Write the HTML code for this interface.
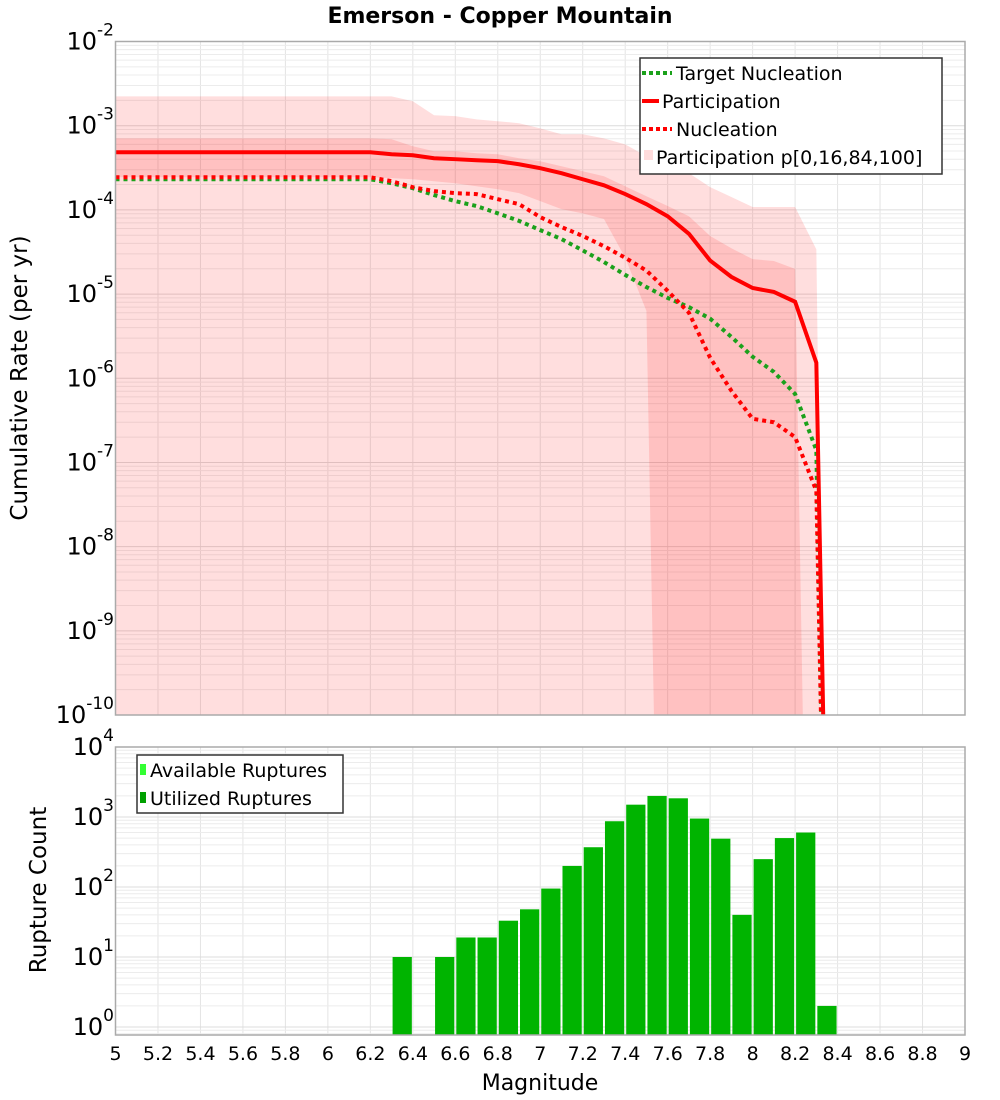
<!DOCTYPE html>
<html><head><meta charset="utf-8"><style>
body{margin:0;background:#fff;}
svg{display:block;font-family:"DejaVu Sans","Liberation Sans",sans-serif;}
</style></head><body>
<svg id="chart" width="1000" height="1100" viewBox="0 0 1000 1100">
<text x="500" y="23" text-anchor="middle" font-size="22" font-weight="bold">Emerson - Copper Mountain</text>
<g id="topg"></g>
<g id="botg"></g>
<text transform="translate(27,378) rotate(-90)" text-anchor="middle" font-size="23">Cumulative Rate (per yr)</text>
<text transform="translate(46,890) rotate(-90)" text-anchor="middle" font-size="23">Rupture Count</text>
<text x="540" y="1090" text-anchor="middle" font-size="22">Magnitude</text>
</svg>
<script>
const partMags=[5.0,6.2,6.3,6.4,6.5,6.6,6.7,6.8,6.9,7.0,7.1,7.2,7.3,7.4,7.5,7.6,7.7,7.8,7.9,8.0,8.1,8.2,8.3,8.34];
const partVals=[4.83e-4,4.83e-4,4.58e-4,4.46e-4,4.1e-4,4.0e-4,3.89e-4,3.79e-4,3.48e-4,3.13e-4,2.73e-4,2.31e-4,1.96e-4,1.54e-4,1.17e-4,8.4e-5,5.2e-5,2.5e-5,1.6e-5,1.18e-5,1.06e-5,8.1e-6,1.53e-6,1e-11];
const nuclMags=[5.0,6.2,6.3,6.4,6.5,6.6,6.7,6.8,6.9,7.0,7.1,7.2,7.3,7.4,7.5,7.6,7.7,7.8,7.9,8.0,8.1,8.2,8.3,8.33];
const nuclVals=[2.44e-4,2.44e-4,2.19e-4,1.86e-4,1.67e-4,1.58e-4,1.54e-4,1.34e-4,1.17e-4,8.2e-5,6.25e-5,4.9e-5,3.7e-5,2.7e-5,1.9e-5,1.09e-5,6.0e-6,1.75e-6,7.1e-7,3.3e-7,3.0e-7,2.0e-7,4.6e-8,1e-11];
const targMags=[5.0,6.2,6.3,6.4,6.5,6.6,6.7,6.8,6.9,7.0,7.1,7.2,7.3,7.4,7.5,7.6,7.7,7.8,7.9,8.0,8.1,8.2,8.3,8.33];
const targVals=[2.31e-4,2.31e-4,2.07e-4,1.81e-4,1.5e-4,1.27e-4,1.11e-4,9.1e-5,7.4e-5,5.75e-5,4.5e-5,3.3e-5,2.4e-5,1.69e-5,1.21e-5,9.0e-6,7.0e-6,5.1e-6,3.1e-6,1.8e-6,1.19e-6,6.5e-7,1.4e-7,1e-11];
const outerUpMags=[5.0,6.3,6.4,6.5,6.6,6.7,6.8,6.9,7.0,7.1,7.2,7.3,7.4,7.5,7.6,7.7,7.8,7.9,8.0,8.1,8.2,8.3,8.34];
const outerUpVals=[2.23e-3,2.23e-3,1.95e-3,1.33e-3,1.3e-3,1.19e-3,1.13e-3,1.07e-3,9.3e-4,7.9e-4,7.9e-4,7.08e-4,6.0e-4,4.33e-4,3.78e-4,2.73e-4,1.86e-4,1.42e-4,1.08e-4,1.08e-4,1.08e-4,3.4e-5,1e-12];
const outerLoMags=[5.0,8.34];
const outerLoVals=[1e-12,1e-12];
const innerUpMags=[5.0,6.2,6.3,6.4,6.5,6.6,6.7,6.8,6.9,7.0,7.1,7.2,7.3,7.4,7.5,7.6,7.7,7.8,7.9,8.0,8.1,8.2,8.25];
const innerUpVals=[7.08e-4,7.08e-4,6.9e-4,5.7e-4,4.97e-4,4.97e-4,4.7e-4,4.58e-4,4.1e-4,3.78e-4,3.3e-4,2.88e-4,2.51e-4,1.91e-4,1.45e-4,1.11e-4,8.4e-5,4.9e-5,3.5e-5,2.6e-5,2.47e-5,1.99e-5,1e-12];
const innerLoMags=[5.0,6.2,6.3,6.4,6.5,6.6,6.7,6.8,6.9,7.0,7.1,7.2,7.3,7.4,7.5,7.55,8.25];
const innerLoVals=[2.44e-4,2.44e-4,2.38e-4,2.31e-4,2.19e-4,2.07e-4,1.91e-4,1.76e-4,1.58e-4,1.27e-4,1.02e-4,9.1e-5,7.8e-5,2.7e-5,6.3e-6,1e-12,1e-12];
const barMags=[6.35,6.55,6.65,6.75,6.85,6.95,7.05,7.15,7.25,7.35,7.45,7.55,7.65,7.75,7.85,7.95,8.05,8.15,8.25,8.35];
const barCounts=[10,10,19,19,33,48,95,200,370,870,1500,2000,1850,950,490,40,250,500,600,2];
const xTicks=["5","5.2","5.4","5.6","5.8","6","6.2","6.4","6.6","6.8","7","7.2","7.4","7.6","7.8","8","8.2","8.4","8.6","8.8","9"];
const topExps=[-2,-3,-4,-5,-6,-7,-8,-9,-10];
const botExps=[0,1,2,3,4];

const NS="http://www.w3.org/2000/svg";
const L=115.5,R=965,T1=41.5,B1=715,T2=747,B2=1035;
const X=m=>L+(m-5)*(R-L)/4;
const YT=v=>T1+(-2-Math.log10(v))*(B1-T1)/8;
const YB=v=>T2+(4-Math.log10(v))*70;
function el(tag,attrs,parent){const e=document.createElementNS(NS,tag);for(const k in attrs)e.setAttribute(k,attrs[k]);parent.appendChild(e);return e;}
const svgEl=document.getElementById('chart');
const defs=el('defs',{},svgEl);
const c1=el('clipPath',{id:'c1'},defs);el('rect',{x:L,y:T1,width:R-L,height:B1-T1},c1);
const c2=el('clipPath',{id:'c2'},defs);el('rect',{x:L,y:T2,width:R-L,height:B2-T2},c2);
const gTop=document.getElementById('topg'),gBot=document.getElementById('botg');

function grid(g,yf,expLo,expHi,yT,yB){
  for(let m=5.2;m<8.99;m+=0.2){const l=el('line',{x1:X(m),x2:X(m),y1:yT,y2:yB,stroke:'#e4e4e4','stroke-width':1},g);
    
    }
  for(let e=expLo;e<=expHi;e++)for(let k=1;k<10;k++){const y=yf(k*Math.pow(10,e));if(y<yT||y>yB)continue;
    const l=el('line',{x1:L,x2:R,y1:y,y2:y,stroke:k==1?'#dcdcdc':'#ececec','stroke-width':1},g);
    
    }
}
grid(gTop,YT,-10,-3,T1,B1);
grid(gBot,YB,-1,3,T2,B2);

function band(g,um,uv,lm,lv,name){
  let pts=um.map((m,i)=>X(m)+','+YT(uv[i]));
  for(let i=lm.length-1;i>=0;i--)pts.push(X(lm[i])+','+YT(lv[i]));
  const p=el('polygon',{points:pts.join(' '),fill:'#ff0000','fill-opacity':0.13,'clip-path':'url(#c1)'},g);
  
  
}
band(gTop,outerUpMags,outerUpVals,outerLoMags,outerLoVals,'participation-band-p0-p100');
band(gTop,innerUpMags,innerUpVals,innerLoMags,innerLoVals,'participation-band-p16-p84');

function line(g,ms,vs,color,dash,name){
  const p=el('polyline',{points:ms.map((m,i)=>X(m)+','+YT(vs[i])).join(' '),fill:'none',stroke:color,'stroke-width':4,'clip-path':'url(#c1)'},g);
  if(dash)p.setAttribute('stroke-dasharray',dash);
  
  
}
line(gTop,targMags,targVals,'#1ba11b','4,4','target-nucleation-line');
line(gTop,nuclMags,nuclVals,'#ff0000','4,4','nucleation-line');
line(gTop,partMags,partVals,'#ff0000',null,'participation-line');

barMags.forEach((m,i)=>{const y=YB(barCounts[i]);
  const r=el('rect',{x:X(m-0.05)+1,y:y,width:X(m+0.05)-X(m-0.05)-2,height:B2-y,fill:'#00b400','clip-path':'url(#c2)'},gBot);
  
  });

[[T1,B1],[T2,B2]].forEach(([a,b],j)=>{const r=el('rect',{x:L,y:a,width:R-L,height:b-a,fill:'none',stroke:'#aaaaaa','stroke-width':1.5},svgEl);
  
  });

function ylab(y,e,name){
  const t=el('text',{x:114,y:y+8,'text-anchor':'end','font-size':24},svgEl);
  
  
  const a=el('tspan',{},t);a.textContent='10';
  const b=el('tspan',{dy:-14,'font-size':17},t);b.textContent=String(e);
}
topExps.forEach(e=>ylab(YT(Math.pow(10,e)),e,'rate-y-tick-label'));
botExps.forEach(e=>ylab(YB(Math.pow(10,e)),e,'count-y-tick-label'));
xTicks.forEach(s=>{const t=el('text',{x:X(parseFloat(s)),y:1060,'text-anchor':'middle','font-size':19},svgEl);
  t.textContent=s;
  
  });

const lg=el('g',{},svgEl);


el('rect',{x:640,y:58,width:302,height:116,fill:'#fff',stroke:'#333','stroke-width':1.5},lg);
el('line',{x1:642,x2:672,y1:73,y2:73,stroke:'#1ba11b','stroke-width':4,'stroke-dasharray':'4,3'},lg);
el('line',{x1:642,x2:659,y1:101,y2:101,stroke:'#ff0000','stroke-width':4},lg);
el('line',{x1:642,x2:672,y1:129,y2:129,stroke:'#ff0000','stroke-width':4,'stroke-dasharray':'4,3'},lg);
el('rect',{x:644,y:150,width:9,height:10,fill:'#ffdcdc'},lg);
[['Target Nucleation',676,80],['Participation',662,108],['Nucleation',676,136],['Participation p[0,16,84,100]',656,164]].forEach(([s,x,y])=>{
  const t=el('text',{x:x,y:y,'font-size':19},lg);t.textContent=s;
  
  });
const lg2=el('g',{},svgEl);


el('rect',{x:137,y:755,width:206,height:58,fill:'#fff',stroke:'#333','stroke-width':1.5},lg2);
el('rect',{x:140,y:764,width:6,height:11,fill:'#33ff33'},lg2);
el('rect',{x:140,y:792,width:6,height:11,fill:'#00a000'},lg2);
[['Available Ruptures',150,777],['Utilized Ruptures',150,805]].forEach(([s,x,y])=>{
  const t=el('text',{x:x,y:y,'font-size':19},lg2);t.textContent=s;
  
  });
</script>
</body></html>
